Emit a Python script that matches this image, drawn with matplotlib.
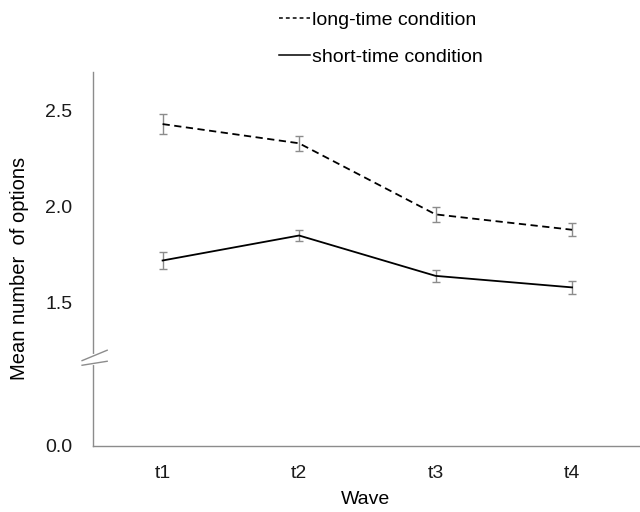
import matplotlib
matplotlib.use("Agg")
import matplotlib.pyplot as plt
import matplotlib.transforms as mtransforms
from matplotlib.lines import Line2D
import numpy as np

plt.rcParams['font.family'] = ['Liberation Sans', 'DejaVu Sans']

waves = ["t1", "t2", "t3", "t4"]
long_mean = [2.43, 2.33, 1.96, 1.88]
long_err = [0.05, 0.04, 0.04, 0.034]
short_mean = [1.72, 1.85, 1.64, 1.58]
short_err = [0.042, 0.03, 0.03, 0.032]
ytick_vals = [0.0, 1.5, 2.0, 2.5]

# compressed axis below the break
brk = 1.2
k = 0.371


def fwd(v):
    v = np.asarray(v, dtype=float)
    return np.where(v >= brk, v, brk - (brk - v) * k)


def inv(u):
    u = np.asarray(u, dtype=float)
    return np.where(u >= brk, u, brk - (brk - u) / k)


fig = plt.figure(figsize=(6.4, 5.12), dpi=100)
ax = fig.add_axes([0.1453, 0.129, 0.853, 0.730])
ax.set_yscale('function', functions=(fwd, inv))

x = np.arange(len(waves))
gray = '#8c8c8c'
dash = (0, (4, 2.5))
ax.errorbar(x, long_mean, yerr=long_err, color='black', ls=dash, lw=1.3,
            ecolor=gray, elinewidth=1, capsize=3, capthick=1)
ax.errorbar(x, short_mean, yerr=short_err, color='black', ls='-', lw=1.3,
            ecolor=gray, elinewidth=1, capsize=3, capthick=1)

ax.set_xlim(-0.51, 3.49)
ax.set_ylim(0.0, 2.70)
ax.set_xticks(x)
ax.set_xticklabels(waves)
ax.set_yticks(ytick_vals)
ax.set_yticklabels(["%.1f" % v for v in ytick_vals])
ax.minorticks_off()
ax.tick_params(length=0, labelsize=14, colors='#1a1a1a')
ax.tick_params(axis='y', pad=15)
ax.tick_params(axis='x', pad=14)

for s in ['top', 'right']:
    ax.spines[s].set_visible(False)
for s in ['left', 'bottom']:
    ax.spines[s].set_color(gray)
    ax.spines[s].set_linewidth(1)

ax.set_xlabel("Wave", fontsize=14, labelpad=6)
ax.set_ylabel("Mean number  of options", fontsize=14.5)
ax.yaxis.set_label_coords(-0.118, 0.476)

# break marks on the y axis
tr = mtransforms.blended_transform_factory(ax.transAxes, ax.transData)
ax.plot([0, 0], [1.16, 1.225], transform=tr, color='white', lw=3, clip_on=False, zorder=5)
for yb in [1.16, 1.225]:
    ax.plot([-0.02, 0.026], [yb - 0.028, yb + 0.028], transform=tr,
            color=gray, lw=1, clip_on=False, zorder=6)

handles = [Line2D([], [], color='black', ls=(0, (2.5, 2)), lw=1.1),
           Line2D([], [], color='black', ls='-', lw=1.1)]
labels = ['long-time condition', 'short-time condition']
fig.legend(handles, labels, loc='upper center', bbox_to_anchor=(0.595, 1.012), frameon=False,
           fontsize=14, handlelength=1.6, handletextpad=0.1, labelspacing=1.0)

fig.savefig("out.png", dpi=100)
